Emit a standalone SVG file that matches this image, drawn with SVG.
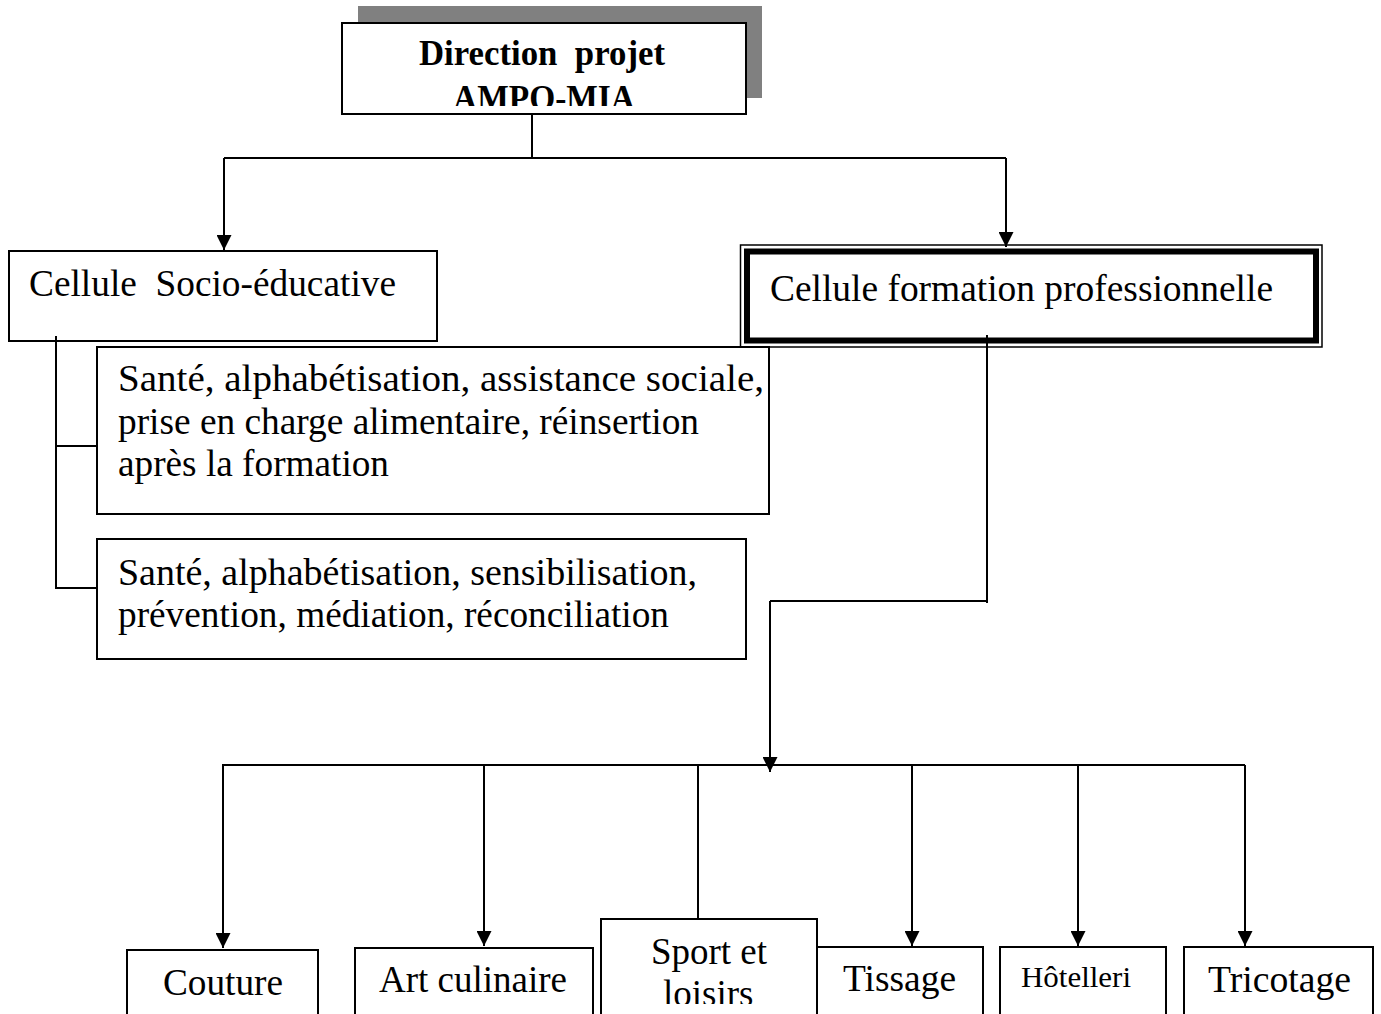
<svg xmlns="http://www.w3.org/2000/svg" width="1381" height="1014" viewBox="0 0 1381 1014">
<style>
.box{fill:#fff;stroke:#000;stroke-width:2}
.t{font-family:"Liberation Serif","Times New Roman",serif;font-size:37px;fill:#000}
.b{font-weight:bold;font-size:36px}
.ln{fill:none;stroke:#000;stroke-width:2}
</style>
<defs>
<marker id="arr" viewBox="0 0 10 10" refX="10" refY="5" markerWidth="15" markerHeight="15" markerUnits="userSpaceOnUse" orient="auto">
<path d="M0,0 L10,5 L0,10 z" fill="#000"/>
</marker>
<clipPath id="clipTop"><rect x="343" y="23" width="402" height="83"/></clipPath>
<clipPath id="clipSport"><rect x="602" y="920" width="214" height="84"/></clipPath>
</defs>
<rect width="1381" height="1014" fill="#fff"/>

<g id="direction">
<rect x="358" y="6" width="404" height="92" fill="#808080"/>
<rect class="box" x="342" y="23" width="404" height="91"/>
<g clip-path="url(#clipTop)">
<text class="t b" x="419" y="65" xml:space="preserve" textLength="246" lengthAdjust="spacingAndGlyphs">Direction  projet</text>
<text class="t b" x="453" y="110" textLength="182" lengthAdjust="spacingAndGlyphs">AMPO-MIA</text>
</g>
</g>

<g id="socio">
<rect class="box" x="9" y="251" width="428" height="90"/>
<text class="t" x="29" y="296" xml:space="preserve" textLength="367" lengthAdjust="spacingAndGlyphs">Cellule  Socio-éducative</text>
</g>

<g id="formation">
<rect x="740.5" y="245" width="581.5" height="102" fill="#fff" stroke="#000" stroke-width="1.5"/>
<rect x="747" y="251.5" width="569" height="89" fill="none" stroke="#000" stroke-width="6"/>
<text class="t" x="770" y="301" textLength="503" lengthAdjust="spacingAndGlyphs">Cellule formation professionnelle</text>
</g>

<g id="socio1">
<rect class="box" x="97" y="347" width="672" height="167"/>
<text class="t" x="118" y="391" textLength="646" lengthAdjust="spacingAndGlyphs">Santé, alphabétisation, assistance sociale,</text>
<text class="t" x="118" y="434" textLength="581" lengthAdjust="spacingAndGlyphs">prise en charge alimentaire, réinsertion</text>
<text class="t" x="118" y="476" textLength="271" lengthAdjust="spacingAndGlyphs">après la formation</text>
</g>

<g id="socio2">
<rect class="box" x="97" y="539" width="649" height="120"/>
<text class="t" x="118" y="585" textLength="579" lengthAdjust="spacingAndGlyphs">Santé, alphabétisation, sensibilisation,</text>
<text class="t" x="118" y="627" textLength="551" lengthAdjust="spacingAndGlyphs">prévention, médiation, réconciliation</text>
</g>

<g id="couture">
<rect class="box" x="127" y="950" width="191" height="80"/>
<text class="t" x="163" y="995" textLength="120" lengthAdjust="spacingAndGlyphs">Couture</text>
</g>

<g id="art">
<rect class="box" x="355" y="948" width="238" height="80"/>
<text class="t" x="379" y="992" textLength="188" lengthAdjust="spacingAndGlyphs">Art culinaire</text>
</g>

<g id="sport">
<rect class="box" x="601" y="919" width="216" height="110"/>
<g clip-path="url(#clipSport)">
<text class="t" x="651" y="964" textLength="116" lengthAdjust="spacingAndGlyphs">Sport et</text>
<text class="t" x="663" y="1006">loisirs</text>
</g>
</g>

<g id="tissage">
<rect class="box" x="817" y="947" width="166" height="80"/>
<text class="t" x="843" y="991" textLength="113" lengthAdjust="spacingAndGlyphs">Tissage</text>
</g>

<g id="hotellerie">
<rect class="box" x="1000" y="947" width="166" height="80"/>
<text class="t" x="1021" y="987" style="font-size:30px" textLength="110" lengthAdjust="spacingAndGlyphs">Hôtelleri</text>
</g>

<g id="tricotage">
<rect class="box" x="1184" y="947" width="189" height="80"/>
<text class="t" x="1208" y="992" textLength="143" lengthAdjust="spacingAndGlyphs">Tricotage</text>
</g>

<g id="connectors">
<path class="ln" d="M532,114 V158"/>
<path class="ln" d="M224,158 H1006"/>
<path class="ln" d="M224,158 V250" marker-end="url(#arr)"/>
<path class="ln" d="M1006,158 V247" marker-end="url(#arr)"/>
<path class="ln" d="M56,336 V588 H97"/>
<path class="ln" d="M56,446 H97"/>
<path class="ln" d="M987,335 V603"/>
<path class="ln" d="M987,601 H770"/>
<path class="ln" d="M770,601 V772" marker-end="url(#arr)"/>
<path class="ln" d="M222,765 H1245"/>
<path class="ln" d="M223,765 V948" marker-end="url(#arr)"/>
<path class="ln" d="M484,765 V946" marker-end="url(#arr)"/>
<path class="ln" d="M698,765 V919"/>
<path class="ln" d="M912,765 V946" marker-end="url(#arr)"/>
<path class="ln" d="M1078,765 V946" marker-end="url(#arr)"/>
<path class="ln" d="M1245,765 V946" marker-end="url(#arr)"/>
</g>
</svg>
